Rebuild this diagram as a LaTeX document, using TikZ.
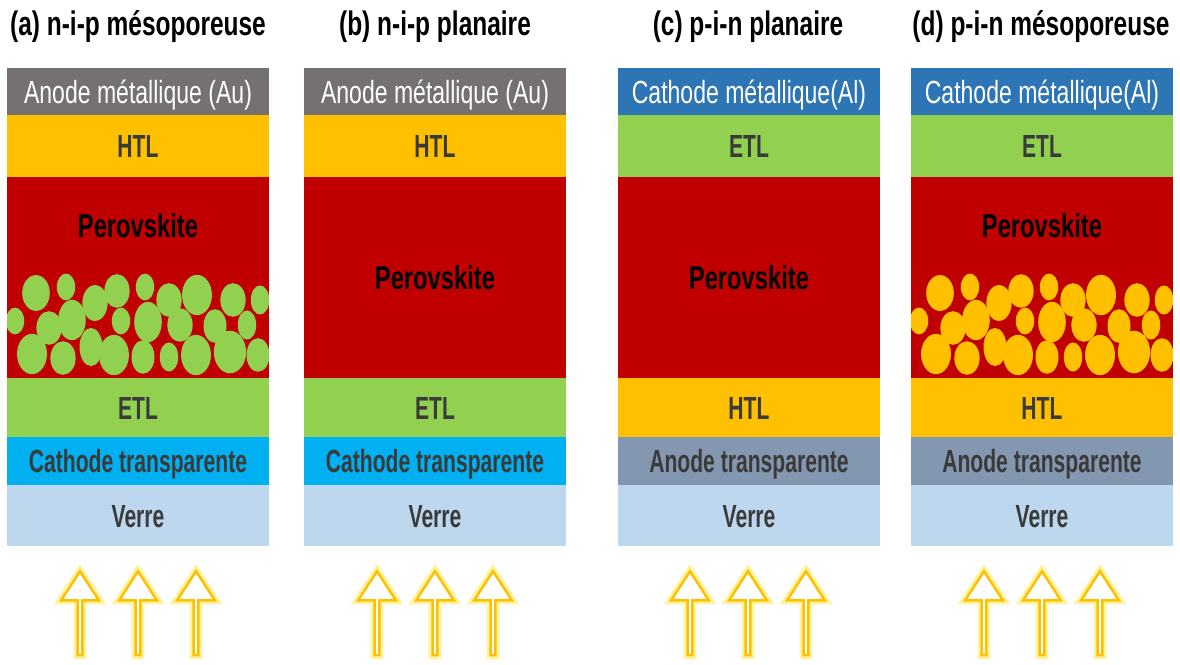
\documentclass[tikz,border=0pt]{standalone}
\usepackage{fontspec}
\setmainfont{Liberation Sans}[FakeStretch=0.72]
\newfontfamily\narrowfont{Liberation Sans}[FakeStretch=0.66]
\usetikzlibrary{positioning,shapes.arrows}

\definecolor{metalgray}{HTML}{767171}
\definecolor{metalblue}{HTML}{2E75B6}
\definecolor{htlyellow}{HTML}{FFC000}
\definecolor{etlgreen}{HTML}{92D050}
\definecolor{perored}{HTML}{C00000}
\definecolor{tcoblue}{HTML}{00B0F0}
\definecolor{tcogray}{HTML}{8497B0}
\definecolor{glassblue}{HTML}{BDD7EE}
\definecolor{labelgray}{HTML}{3A3A3A}
\definecolor{glow}{HTML}{FFF3A0}

\tikzset{
  layer/.style={rectangle, minimum width=262pt, inner sep=0pt, outer sep=0pt,
                text height=23pt, text depth=0pt,
                font=\narrowfont\bfseries\fontsize{32}{34}\selectfont, text=labelgray},
  metal/.style={layer, text=white, minimum height=47pt,
                font=\fontsize{32}{34}\selectfont},
  perolabel/.style={font=\bfseries\fontsize{33}{35}\selectfont, text=black},
  title/.style={font=\bfseries\fontsize{34}{36}\selectfont, text=black},
  sunarrow/.style={single arrow, shape border rotate=90, inner sep=0pt,
                   minimum height=84pt, minimum width=38pt,
                   single arrow head extend=9pt, single arrow tip angle=66,
                   fill=white, draw=htlyellow, line width=2.5pt,
                   preaction={draw=glow, line width=8pt}}
}

\newcommand{\grains}[2]{%
  \foreach \px/\py/\rx/\ry in {29/293/12/16, 59/287/8/12, 88/303/11/16, 110/291/11/15,
      138/287/8/12, 162/300/11/15, 190/295/13/18, 226/300/11/15, 253/300/8/13,
      8/321/8/12, 42/328/11/15, 65/320/12/18, 114/321/8/12, 141/322/12/18,
      173/325/11/15, 208/326/10/15, 240/325/8/13,
      25/354/13/18, 56/358/11/15, 84/347/10/17, 107/355/13/18, 136/357/10/15,
      162/357/8/13, 189/355/13/18, 223/352/14/19, 251/355/10/15}
    \fill[#2] (#1+\px,\py) ellipse [x radius=1.15*\rx pt, y radius=1.12*\ry pt];%
}

\begin{document}
\begin{tikzpicture}[x=1pt, y=-1pt]
\useasboundingbox (0,0) rectangle (1180,664);

% titles
\node[title] (ta) at (138,27) {(a) n-i-p mésoporeuse};
\node[title] (tb) at (435,27) {(b) n-i-p planaire};
\node[title] (tc) at (748,27) {(c) p-i-n planaire};
\node[title] (td) at (1041,27) {(d) p-i-n mésoporeuse};

% (a) n-i-p mesoporous
\node[metal, fill=metalgray, anchor=north west] (a1) at (7,68) {Anode métallique (Au)};
\node[layer, fill=htlyellow, minimum height=62pt, below=0pt of a1] (a2) {HTL};
\node[layer, fill=perored, minimum height=201pt, below=0pt of a2] (a3) {};
\node[layer, fill=etlgreen, minimum height=59pt, below=0pt of a3] (a4) {ETL};
\node[layer, fill=tcoblue, minimum height=48pt, below=0pt of a4] (a5) {Cathode transparente};
\node[layer, fill=glassblue, minimum height=61pt, below=0pt of a5] (a6) {Verre};
\begin{scope}
  \clip (a3.south west) rectangle (a3.north east);
  \grains{7}{etlgreen}
\end{scope}
\node[perolabel] (a3t) at ([yshift=-49pt]a3.north) {Perovskite};

% (b) n-i-p planar
\node[metal, fill=metalgray, anchor=north west] (b1) at (304,68) {Anode métallique (Au)};
\node[layer, fill=htlyellow, minimum height=62pt, below=0pt of b1] (b2) {HTL};
\node[layer, fill=perored, minimum height=201pt, below=0pt of b2] (b3) {};
\node[layer, fill=etlgreen, minimum height=59pt, below=0pt of b3] (b4) {ETL};
\node[layer, fill=tcoblue, minimum height=48pt, below=0pt of b4] (b5) {Cathode transparente};
\node[layer, fill=glassblue, minimum height=61pt, below=0pt of b5] (b6) {Verre};
\node[perolabel] (b3t) at (b3.center) {Perovskite};

% (c) p-i-n planar
\node[metal, fill=metalblue, anchor=north west] (c1) at (618,68) {Cathode métallique(Al)};
\node[layer, fill=etlgreen, minimum height=62pt, below=0pt of c1] (c2) {ETL};
\node[layer, fill=perored, minimum height=201pt, below=0pt of c2] (c3) {};
\node[layer, fill=htlyellow, minimum height=59pt, below=0pt of c3] (c4) {HTL};
\node[layer, fill=tcogray, minimum height=48pt, below=0pt of c4] (c5) {Anode transparente};
\node[layer, fill=glassblue, minimum height=61pt, below=0pt of c5] (c6) {Verre};
\node[perolabel] (c3t) at (c3.center) {Perovskite};

% (d) p-i-n mesoporous
\node[metal, fill=metalblue, anchor=north west] (d1) at (911,68) {Cathode métallique(Al)};
\node[layer, fill=etlgreen, minimum height=62pt, below=0pt of d1] (d2) {ETL};
\node[layer, fill=perored, minimum height=201pt, below=0pt of d2] (d3) {};
\node[layer, fill=htlyellow, minimum height=59pt, below=0pt of d3] (d4) {HTL};
\node[layer, fill=tcogray, minimum height=48pt, below=0pt of d4] (d5) {Anode transparente};
\node[layer, fill=glassblue, minimum height=61pt, below=0pt of d5] (d6) {Verre};
\begin{scope}
  \clip (d3.south west) rectangle (d3.north east);
  \grains{911}{htlyellow}
\end{scope}
\node[perolabel] (d3t) at ([yshift=-49pt]d3.north) {Perovskite};

% incoming light
\foreach \col/\cx in {a/138, b/435, c/748, d/1042} {
  \node[sunarrow] (\col l1) at (\cx-58,615) {};
  \node[sunarrow] (\col l2) at (\cx,615) {};
  \node[sunarrow] (\col l3) at (\cx+58,615) {};
}
\end{tikzpicture}
\end{document}
